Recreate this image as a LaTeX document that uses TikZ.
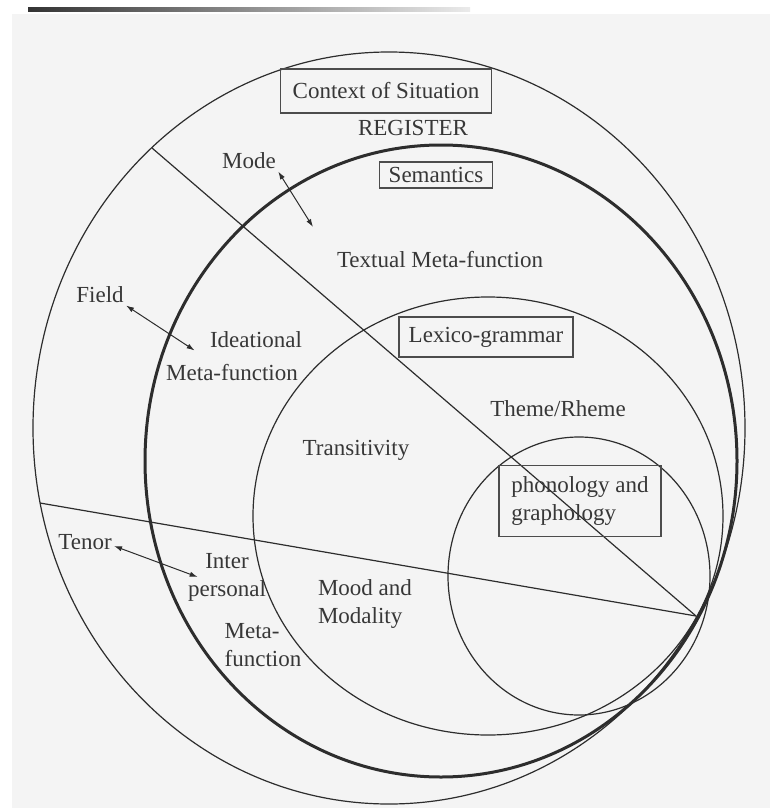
\documentclass[tikz,border=0pt]{standalone}
\usepackage{fontspec}
\setmainfont{Liberation Serif}
\usetikzlibrary{
    arrows.meta,
    positioning
}
\definecolor{reginkgray}{RGB}{45,45,45}
\definecolor{regtext}{RGB}{55,55,55}
\definecolor{regpaper}{RGB}{244,244,244}

\begin{document}
\begin{tikzpicture}[
        x=0.5pt, y=-0.5pt,
        lbl/.style={
            text=regtext,
            font=\fontsize{11.5}{14}\selectfont,
            inner sep=1pt
        },
        boxed/.style={
            lbl,
            draw=reginkgray!85,
            line width=0.6pt,
            inner sep=0pt
        },
        ring/.style={
            draw=reginkgray,
            line width=0.6pt
        },
        thickring/.style={
            ring,
            line width=1.5pt
        },
        arrow/.style={
            {Latex[length=4pt,width=2.6pt]}-{Latex[length=4pt,width=2.6pt]},
            draw=reginkgray,
            line width=0.5pt
        }
    ]

    \fill[white] (0,0) rectangle (770,808);
    \useasboundingbox (0,0) rectangle (770,808);
    \fill[regpaper] (12,14) rectangle (770,808);
    \shade[left color=black!80, right color=black!8] (28,8) rectangle (470,12);

    % nested circles
    \draw[ring] (389,428) ellipse [x radius=356, y radius=376];
    \draw[thickring] (441,461) ellipse [x radius=296, y radius=316];
    \draw[ring] (488,516) ellipse [x radius=235, y radius=219];
    \draw[ring] (579,576) ellipse [x radius=131, y radius=139];

    % dividing lines
    \coordinate (meet) at (696,616);
    \coordinate (modeedge) at (152,148);
    \coordinate (tenoredge) at (40,503);
    \draw[ring] (modeedge) -- (meet);
    \draw[ring] (tenoredge) -- (meet);

    \node[boxed, minimum width=105.5pt, minimum height=22pt] (context) at (386,91) {Context of Situation};
    \node[lbl] (register) at (413,128) {REGISTER};
    \node[boxed, minimum width=56.5pt, minimum height=13pt] (semantics) at (436,175) {Semantics};
    \node[lbl] (mode) at (249,161) {Mode};
    \node[lbl] (textual) at (440,260) {Textual Meta-function};
    \node[lbl] (field) at (100,295) {Field};
    \node[lbl] (ideational) at (256,340) {Ideational};
    \node[lbl] (ideameta) at (232,373) {Meta-function};
    \node[boxed, minimum width=87pt, minimum height=20pt] (lexico) at (486,337) {Lexico-grammar};
    \node[lbl] (theme) at (558,409) {Theme/Rheme};
    \node[lbl] (transitivity) at (356,450) {Transitivity};
    \node[boxed, minimum width=81pt, minimum height=35.5pt, align=left] (phono) at (580,501) {phonology and\\graphology};
    \node[lbl] (tenor) at (85,542) {Tenor};
    \node[lbl, align=center] (inter) at (227,577) {Inter\\personal};
    \node[lbl, align=left] (intermeta) at (263,645) {Meta-\\function};
    \node[lbl, align=left] (mood) at (365,604) {Mood and\\Modality};

    \coordinate (modetip) at (313,227);
    \draw[arrow] (mode.south east) -- (modetip);
    \draw[arrow] (field.south east) -- ([xshift=-6.5pt]ideational.south west);
    \draw[arrow] ([yshift=-2pt]tenor.east) -- ([xshift=6pt]inter.west);

\end{tikzpicture}
\end{document}
